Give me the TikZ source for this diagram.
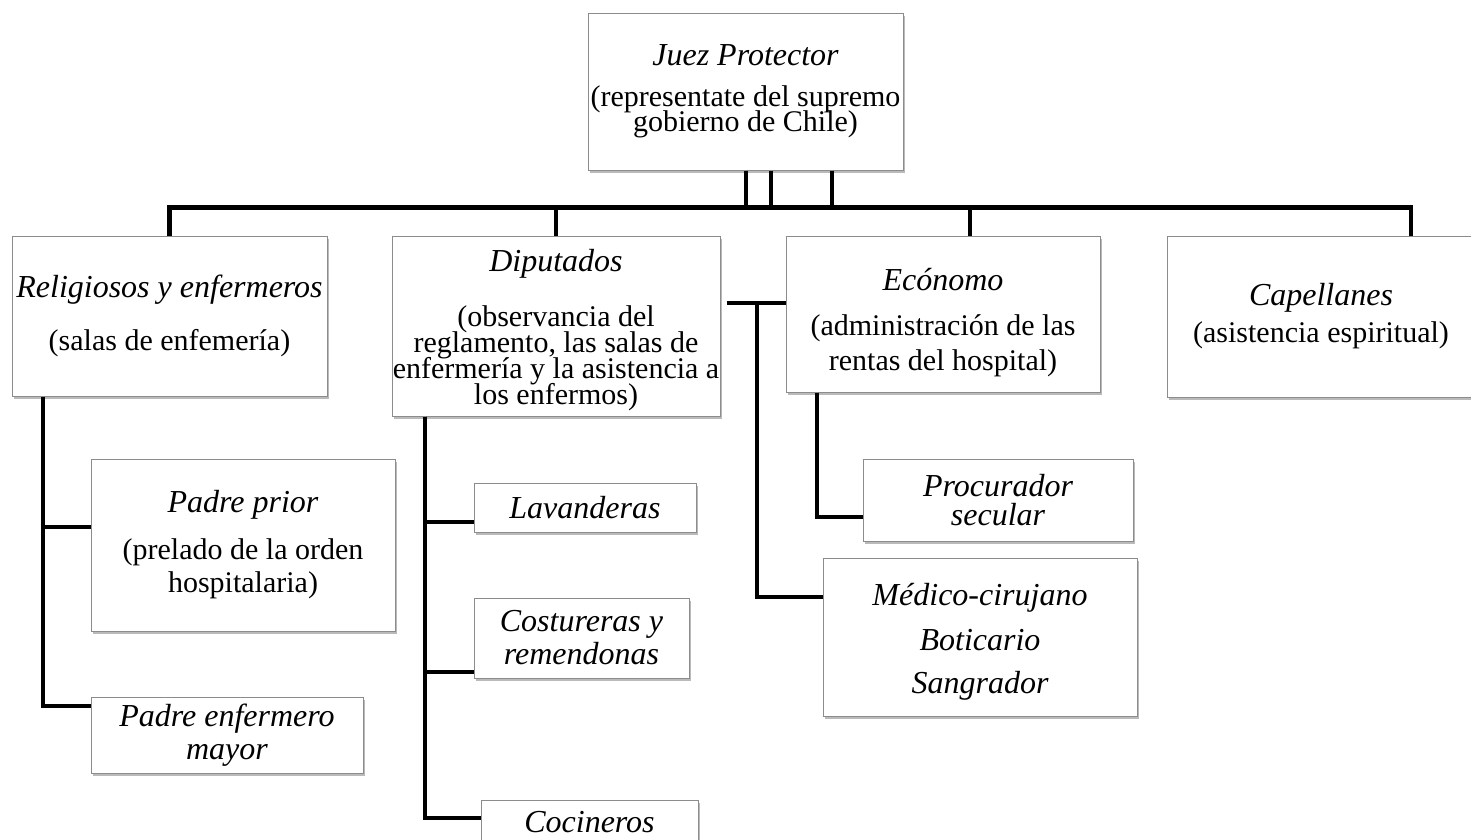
\documentclass[tikz,border=0pt]{standalone}
\usepackage{fontspec}
\setmainfont{Liberation Serif}
\usetikzlibrary{shadows}
\newcommand{\cargo}[1]{{\fontsize{32}{35}\selectfont\itshape #1}}
\tikzset{
  box/.style={draw=black!45, line width=1pt, fill=white, inner sep=0pt,
    align=center, font=\fontsize{30}{33}\selectfont,
    drop shadow={shadow xshift=2pt, shadow yshift=-3pt, fill=black!45, opacity=0.6}},
  link/.style={line width=4.5pt, black}
}
\begin{document}
\begin{tikzpicture}[x=1pt,y=-1pt]
      \useasboundingbox (0,0) rectangle (1471,839);
      \node[box, minimum width=315, minimum height=157] (juez) at (745.5,91.5)
        {\cargo{Juez Protector}\\[8pt](representate del supremo\\[-8pt]gobierno de Chile)};
      \node[box, minimum width=315, minimum height=160] (relig) at (169.5,316)
        {\cargo{Religiosos y enfermeros}\\[20pt](salas de enfemería)};
      \node[box, minimum width=328, minimum height=180] (dip) at (556,326)
        {\rule{0pt}{30pt}\cargo{Diputados}\\[22pt](observancia del\\[-7pt]reglamento, las salas de\\[-7pt]enfermería y la asistencia a\\[-7pt]los enfermos)};
      \node[box, minimum width=314, minimum height=156] (econ) at (943,314)
        {\rule{0pt}{40pt}\cargo{Ecónomo}\\[12pt](administración de las\\[2pt]rentas del hospital)};
      \node[box, minimum width=308, minimum height=161] (cap) at (1321,316.5)
        {\cargo{Capellanes}\\[4pt](asistencia espiritual)};
      \node[box, minimum width=304, minimum height=172] (prior) at (243,545)
        {\cargo{Padre prior}\\[14pt](prelado de la orden\\hospitalaria)};
      \node[box, minimum width=272, minimum height=76] (mayor) at (227,735)
        {\cargo{Padre enfermero}\\\cargo{mayor}};
      \node[box, minimum width=222, minimum height=49] (lav) at (585,507.5)
        {\cargo{Lavanderas}};
      \node[box, minimum width=215, minimum height=80] (cost) at (581.5,638)
        {\cargo{Costureras y}\\\cargo{remendonas}};
      \node[box, minimum width=217, minimum height=44] (coc) at (589.5,822)
        {\cargo{Cocineros}};
      \node[box, minimum width=270, minimum height=82] (proc) at (998,500)
        {\cargo{Procurador}\\[-4pt]\cargo{secular}};
      \node[box, minimum width=314, minimum height=158] (med) at (980,637)
        {\rule{0pt}{32pt}\cargo{Médico-cirujano}\\[12pt]\cargo{Boticario}\\[10pt]\cargo{Sangrador}};
      \coordinate (mj) at (757,303);
      % upper level
      \draw[link] ([xshift=0.5pt]juez.south) -- ++(0,37) -| (relig.north);
      \draw[link] ([xshift=25.5pt]juez.south) -- ++(0,37) -| (dip.north);
      \draw[link] ([xshift=86.5pt]juez.south) -- ++(0,37) -| ([xshift=27pt]econ.north);
      \draw[link] ([xshift=0.5pt]juez.south) -- ++(0,37) -| ([xshift=90pt]cap.north);
      % religiosos
      \draw[link] ([xshift=-126.5pt]relig.south) |- ([yshift=18pt]prior.west);
      \draw[link] ([xshift=-126.5pt]relig.south) |- ([yshift=29pt]mayor.west);
      % diputados
      \draw[link] ([xshift=-131pt]dip.south) |- ([yshift=-14.5pt]lav.west);
      \draw[link] ([xshift=-131pt]dip.south) |- ([yshift=-34pt]cost.west);
      \draw[link] ([xshift=-131pt]dip.south) |- ([yshift=4pt]coc.west);
      \draw[link] ([xshift=6pt,yshift=23pt]dip.east) -- ([yshift=11pt]econ.west);
      \draw[link] (mj) |- ([yshift=40pt]med.west);
      % economo
      \draw[link] ([xshift=-126pt]econ.south) |- ([yshift=-17pt]proc.west);
\end{tikzpicture}
\end{document}
